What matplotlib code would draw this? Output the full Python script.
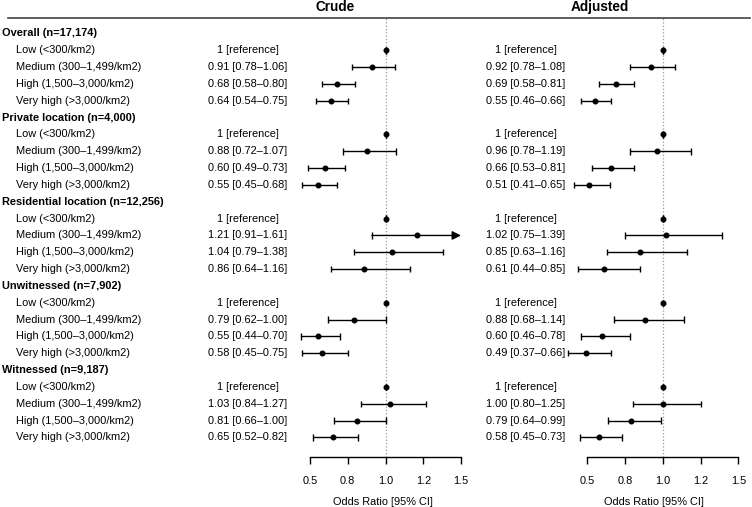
import matplotlib
matplotlib.use('Agg')
import matplotlib.pyplot as plt
import matplotlib.transforms as mtransforms
from matplotlib.lines import Line2D

plt.rcParams['font.family'] = ['Liberation Sans', 'DejaVu Sans']

groups = ['Overall (n=17,174)', 'Private location (n=4,000)', 'Residential location (n=12,256)',
          'Unwitnessed (n=7,902)', 'Witnessed (n=9,187)']
levels = ['Low (<300/km2)', 'Medium (300–1,499/km2)', 'High (1,500–3,000/km2)', 'Very high (>3,000/km2)']

crude_or = [[1, 0.91, 0.68, 0.64], [1, 0.88, 0.60, 0.55], [1, 1.21, 1.04, 0.86],
            [1, 0.79, 0.55, 0.58], [1, 1.03, 0.81, 0.65]]
crude_lo = [[1, 0.78, 0.58, 0.54], [1, 0.72, 0.49, 0.45], [1, 0.91, 0.79, 0.64],
            [1, 0.62, 0.44, 0.45], [1, 0.84, 0.66, 0.52]]
crude_hi = [[1, 1.06, 0.80, 0.75], [1, 1.07, 0.73, 0.68], [1, 1.61, 1.38, 1.16],
            [1, 1.00, 0.70, 0.75], [1, 1.27, 1.00, 0.82]]

adj_or = [[1, 0.92, 0.69, 0.55], [1, 0.96, 0.66, 0.51], [1, 1.02, 0.85, 0.61],
          [1, 0.88, 0.60, 0.49], [1, 1.00, 0.79, 0.58]]
adj_lo = [[1, 0.78, 0.58, 0.46], [1, 0.78, 0.53, 0.41], [1, 0.75, 0.63, 0.44],
          [1, 0.68, 0.46, 0.37], [1, 0.80, 0.64, 0.45]]
adj_hi = [[1, 1.08, 0.81, 0.66], [1, 1.19, 0.81, 0.65], [1, 1.39, 1.16, 0.85],
          [1, 1.14, 0.78, 0.66], [1, 1.25, 0.99, 0.73]]

x_ticks = [0.5, 0.75, 1.0, 1.25, 1.5]
x_tick_labels = ['0.5', '0.8', '1.0', '1.2', '1.5']
x_max = 1.5

W, H = 752, 507
FS = 7.9
ROW0, ROW_H = 33.5, 16.83        # pixel y of first row, row spacing
TOP, BOTTOM = 18, 457            # header line / axis line (pixels)
PX_PER_UNIT = 151


def make_panel(fig, left_px, right_px, half_px):
    # half_px is the pixel position of OR = 0.5
    ax = fig.add_axes([left_px / W, 1 - BOTTOM / H, (right_px - left_px) / W, (BOTTOM - TOP) / H])
    ax.set_xlim(0.5 + (left_px - half_px) / PX_PER_UNIT, 0.5 + (right_px - half_px) / PX_PER_UNIT)
    ax.set_ylim((BOTTOM - ROW0) / ROW_H, (TOP - ROW0) / ROW_H)
    ax.patch.set_alpha(0)
    for side in ['top', 'left', 'right']:
        ax.spines[side].set_visible(False)
    ax.spines['bottom'].set_bounds(0.5, 1.5)
    ax.spines['bottom'].set_linewidth(1.0)
    ax.set_yticks([])
    ax.set_xticks(x_ticks)
    ax.set_xticklabels(x_tick_labels, fontsize=FS)
    ax.tick_params(axis='x', direction='out', length=5, width=1.0, pad=8.5)
    ax.set_xlabel('Odds Ratio [95% CI]', fontsize=FS, labelpad=8)
    ax.axvline(1.0, color='#999999', linestyle=':', linewidth=0.9, zorder=1)
    return ax


def draw_estimates(ax, est, lo, hi):
    cap = 0.19
    for g in range(len(groups)):
        for k in range(len(levels)):
            y = g * 5 + 1 + k
            e, l, h = est[g][k], lo[g][k], hi[g][k]
            if h > x_max:
                ax.annotate('', xy=(x_max, y), xytext=(l, y),
                            arrowprops=dict(arrowstyle='-|>', color='black', lw=1.0,
                                            mutation_scale=13, shrinkA=0, shrinkB=0))
                ax.vlines([l], y - cap, y + cap, color='black', lw=1.0)
            else:
                ax.hlines(y, l, h, color='black', lw=1.0)
                ax.vlines([l, h], y - cap, y + cap, color='black', lw=1.0)
            ax.plot([e], [y], 'o', color='black', markersize=3.3, zorder=3)


def draw_text_column(fig, ax, est, lo, hi, center_px):
    trans = mtransforms.blended_transform_factory(fig.transFigure, ax.transData)
    for g in range(len(groups)):
        for k in range(len(levels)):
            y = g * 5 + 1 + k
            if k == 0:
                label = '1 [reference]'
            else:
                label = f'{est[g][k]:.2f} [{lo[g][k]:.2f}–{hi[g][k]:.2f}]'
            fig.text(center_px / W, y, label, transform=trans, ha='center', va='center', fontsize=FS)


fig = plt.figure(figsize=(W / 100, H / 100), dpi=100)

ax_crude = make_panel(fig, 295, 470, 310)
ax_adj = make_panel(fig, 560, 748, 587.3)

draw_estimates(ax_crude, crude_or, crude_lo, crude_hi)
draw_estimates(ax_adj, adj_or, adj_lo, adj_hi)

# row labels
trans = mtransforms.blended_transform_factory(fig.transFigure, ax_crude.transData)
for g, name in enumerate(groups):
    fig.text(2 / W, g * 5, name, transform=trans, ha='left', va='center', fontsize=FS, fontweight='bold')
    for k, lev in enumerate(levels):
        fig.text(16 / W, g * 5 + 1 + k, lev, transform=trans, ha='left', va='center', fontsize=FS)

draw_text_column(fig, ax_crude, crude_or, crude_lo, crude_hi, 248)
draw_text_column(fig, ax_adj, adj_or, adj_lo, adj_hi, 525.6)

# column titles and header rule
fig.text(335 / W, 1 - 7 / H, 'Crude', ha='center', va='center', fontsize=9.8, fontweight='bold')
fig.text(600 / W, 1 - 7 / H, 'Adjusted', ha='center', va='center', fontsize=9.8, fontweight='bold')
fig.add_artist(Line2D([8 / W, 750 / W], [1 - TOP / H, 1 - TOP / H], transform=fig.transFigure,
                      color='#444444', linewidth=1.2))

fig.savefig('out.png', dpi=100)
